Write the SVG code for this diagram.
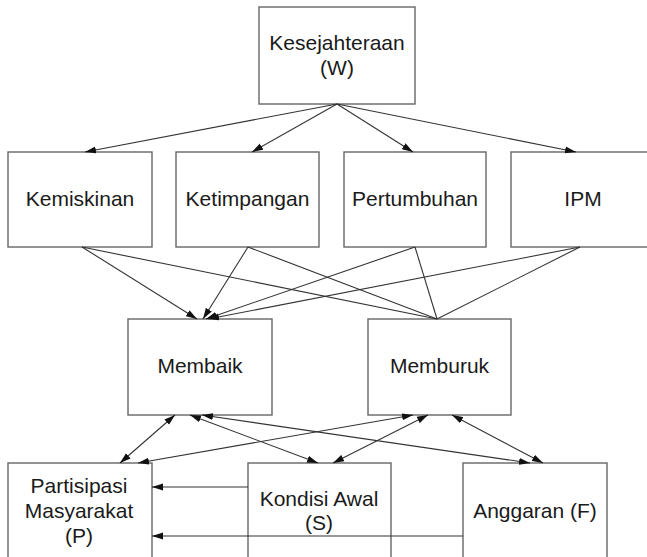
<svg xmlns="http://www.w3.org/2000/svg" width="647" height="557" viewBox="0 0 647 557">
<style>
.box{fill:#fff;stroke:#666;stroke-width:1.4}
.t{font-family:"Liberation Sans",Arial,sans-serif;font-size:21px;fill:#1a1a1a;text-anchor:middle}
.c{stroke:#333;stroke-width:1.1;fill:none}
.a{marker-end:url(#ah)}
.b{marker-end:url(#ah);marker-start:url(#ah)}
</style>
<defs>
<marker id="ah" markerUnits="userSpaceOnUse" markerWidth="12" markerHeight="8" refX="11" refY="4" orient="auto-start-reverse">
<path d="M0,0.5 L11,4 L0,7.5 z" fill="#111"/>
</marker>
</defs>
<rect width="647" height="557" fill="#fff"/>
<g id="node-w"><rect class="box" x="259" y="7" width="156" height="97"/><text class="t" x="337" y="50">Kesejahteraan</text><text class="t" x="337" y="75">(W)</text></g>
<g id="node-kemiskinan"><rect class="box" x="8" y="152" width="144" height="95"/><text class="t" x="80" y="206">Kemiskinan</text></g>
<g id="node-ketimpangan"><rect class="box" x="176" y="152" width="143" height="95"/><text class="t" x="247.5" y="206">Ketimpangan</text></g>
<g id="node-pertumbuhan"><rect class="box" x="344" y="152" width="142" height="95"/><text class="t" x="415" y="206">Pertumbuhan</text></g>
<g id="node-ipm"><rect class="box" x="511" y="152" width="144" height="95"/><text class="t" x="583" y="206">IPM</text></g>
<g id="node-membaik"><rect class="box" x="128" y="319" width="144" height="96"/><text class="t" x="200" y="373">Membaik</text></g>
<g id="node-memburuk"><rect class="box" x="368" y="319" width="143" height="96"/><text class="t" x="439.5" y="373">Memburuk</text></g>
<g id="node-partisipasi"><rect class="box" x="8" y="463" width="144" height="120"/><text class="t" x="79" y="493">Partisipasi</text><text class="t" x="79" y="518">Masyarakat</text><text class="t" x="79" y="543">(P)</text></g>
<g id="node-kondisi"><rect class="box" x="248" y="463" width="143" height="120"/><text class="t" x="319" y="506">Kondisi Awal</text><text class="t" x="319" y="530">(S)</text></g>
<g id="node-anggaran"><rect class="box" x="463" y="463" width="144" height="120"/><text class="t" x="535" y="518">Anggaran (F)</text></g>
<g id="connectors">
<line class="c a" x1="337" y1="104" x2="85" y2="152"/>
<line class="c a" x1="337" y1="104" x2="252" y2="152"/>
<line class="c a" x1="337" y1="104" x2="413" y2="152"/>
<line class="c a" x1="337" y1="104" x2="576" y2="152"/>
<line class="c a" x1="82" y1="247" x2="197" y2="319"/>
<line class="c a" x1="248" y1="247" x2="203" y2="319"/>
<line class="c a" x1="415" y1="247" x2="206" y2="319"/>
<line class="c a" x1="580" y1="247" x2="208" y2="319"/>
<line class="c" x1="82" y1="247" x2="437" y2="319"/>
<line class="c" x1="248" y1="247" x2="437" y2="319"/>
<line class="c" x1="415" y1="247" x2="437" y2="319"/>
<line class="c" x1="580" y1="247" x2="437" y2="319"/>
<line class="c b" x1="175" y1="415" x2="120" y2="463"/>
<line class="c b" x1="190" y1="415" x2="318" y2="463"/>
<line class="c b" x1="202" y1="415" x2="530" y2="463"/>
<line class="c b" x1="413" y1="415" x2="138" y2="463"/>
<line class="c b" x1="428" y1="415" x2="333" y2="463"/>
<line class="c b" x1="452" y1="415" x2="543" y2="463"/>
<line class="c a" x1="248" y1="487" x2="152" y2="487"/>
<line class="c a" x1="463" y1="536" x2="152" y2="536"/>
</g>
</svg>
